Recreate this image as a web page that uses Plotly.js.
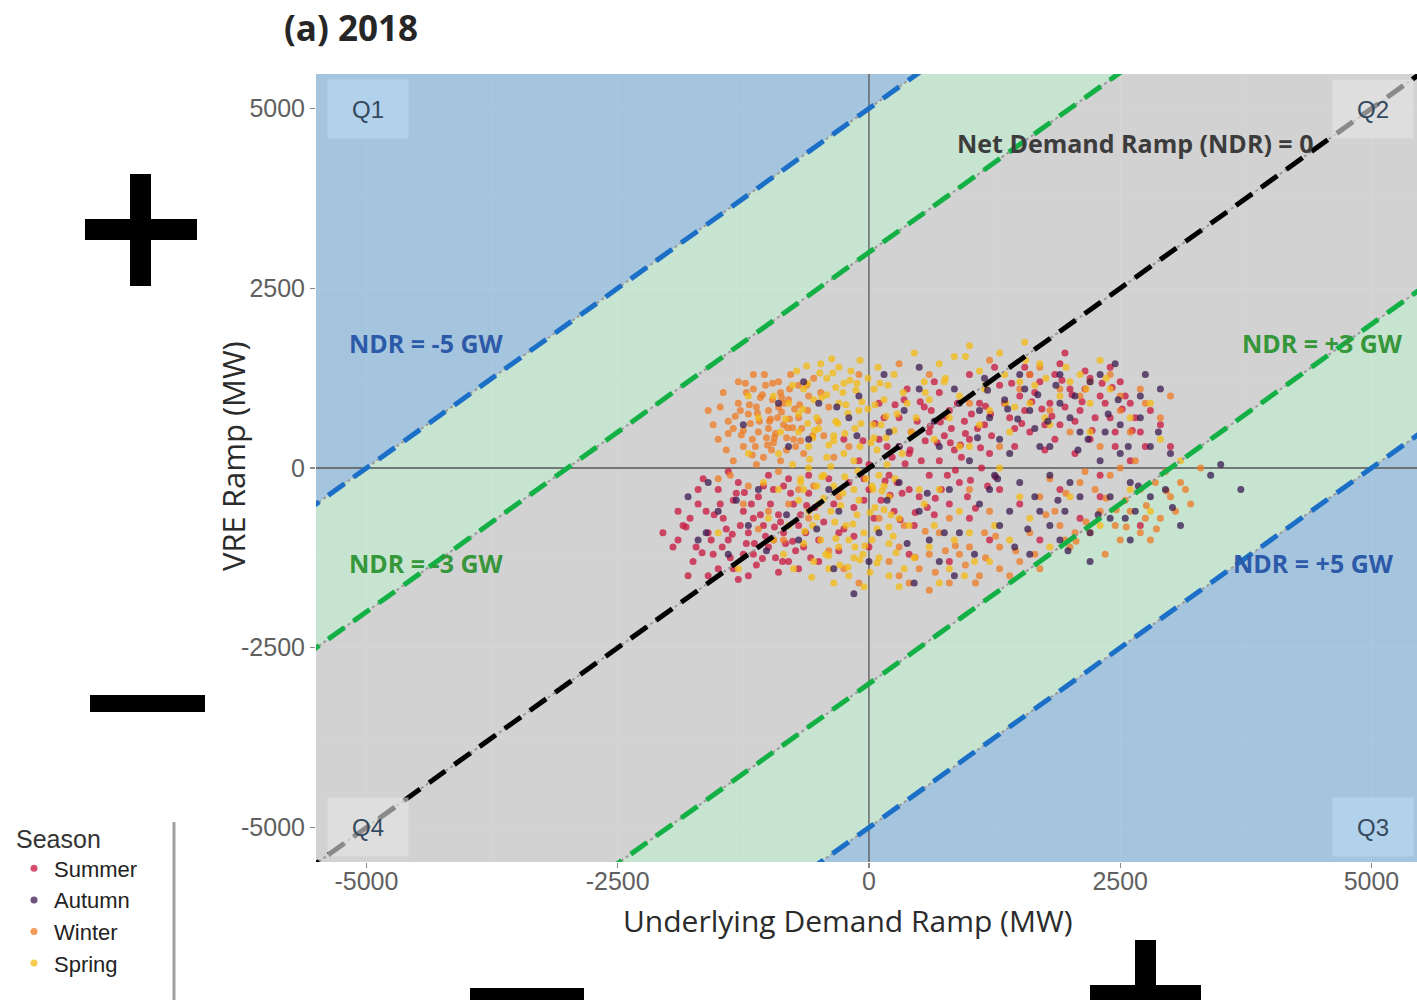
<!DOCTYPE html>
<html><head><meta charset="utf-8">
<script src="https://cdn.plot.ly/plotly-3.0.1.min.js"></script>
<style>html,body{margin:0;padding:0;background:#fff;}#chart{width:1417px;height:1000px;}</style>
</head><body><div id="chart"></div>
<script>
// ---------------- DATA (MW) ----------------
const seasonNames = ['Summer', 'Autumn', 'Winter', 'Spring'];
const ndrLevels = [-5000, -3000, 0, 3000, 5000];
const ndrLabels = ['NDR = -5 GW', 'NDR = -3 GW', 'Net Demand Ramp (NDR) = 0', 'NDR = +3 GW', 'NDR = +5 GW'];
const quadrantNames = ['Q1', 'Q2', 'Q3', 'Q4'];
const xTicks = [-5000, -2500, 0, 2500, 5000];
const yTicks = [-5000, -2500, 0, 2500, 5000];
const xTitle = 'Underlying Demand Ramp (MW)';
const yTitle = 'VRE Ramp (MW)';
const chartTitle = '(a) 2018';

const summerX = [-1950,-1850,-1750,-1700,-1600,-1550,-1500,-1450,-1400,-1350,
  -1300,-1250,-1200,-1150,-1100,-1050,-1000,-950,-900,-850,
  -800,-750,-700,-650,-600,-1900,-1650,-1400,-1200,-900,
  -1800,-1350,-1150,-950,-1000,-850,-1600,-2050,-1250,-700,
  -100,0,100,200,300,400,500,600,700,800,
  900,1000,1100,1200,1300,250,450,650,350,550,
  750,950,150,50,-150,300,600,800,1000,700,
  -200,400,850,1150,
  1400,1500,1600,1700,1800,1900,2000,2100,2200,2300,
  2400,2500,2600,2700,1550,1850,2150,1450,1750,2050,
  2450,2800,1300,1000,1950,
  1500,1900,2300,2700,1200,800,400,0,-300,-500,2100,1700,
  -350,-250,-50,-400,-150,
  -1900,-1780,-1720,-1620,-1570,-1480,-1420,-1380,-1320,-1280,
  -1220,-1170,-1120,-1080,-1030,-980,-930,-880,-830,-780,
  -730,-680,-630,-580,-540,-1700,-1500,-1300,-1050,-800,
  -600,-450,-300,-500,
  0,120,230,330,420,520,620,720,820,920,
  1020,1120,1220,180,480,680,880,1080,280,580,
  780,980,1180,-50,100,380,650,-250,
  1350,1450,1550,1650,1750,1850,1950,2050,2150,2250,
  2350,2450,2550,2650,2750,1600,1900,2200,2400,1250,
  2900,3000,2600,2300,
  60,160,260,360,460,560,660,760,860,960,
  1060,1160,1260,210,410,610,810,1010,1210,310,
  510,710,910,1110,-60,1420,1620,1820,2020,2220,
  2420,2620,1520,1720,1920,2120,2320,2520,-1820,-1660,
  -1540,-1360,-1240,-1060,-940,-760,-620,-1460,-1140,-860];
const summerY = [-1100,-800,-1300,-500,-900,-1200,-300,-700,-1000,-1400,
  -200,-600,-900,-1200,-400,-800,-1100,-300,-650,-900,
  -1300,-500,-800,-1100,-350,-600,-150,-50,-1500,-1450,
  -1500,-450,-700,-1000,-100,-250,-1500,-900,-1200,-1400,
  100,-300,400,-100,700,200,-400,500,100,800,
  -200,400,900,200,-300,-600,-800,-650,950,850,
  450,650,700,-700,-550,300,-100,-500,-700,1050,
  -200,-300,250,600,
  700,1000,500,1200,900,600,1100,800,400,1000,
  700,1200,900,500,1400,1300,1350,300,250,200,
  300,800,1150,1300,1600,
  -500,-300,-400,-800,-1000,-1300,-1200,-1100,-900,-1300,-700,-1000,
  -500,-850,-450,-150,-950,
  -1000,-700,-1100,-600,-1000,-500,-850,-1250,-350,-800,
  -1050,-500,-1350,-650,-950,-500,-1250,-750,-1050,-350,
  -1150,-650,-900,-1250,-550,-300,-1400,-1550,-250,-150,
  -100,-750,-1150,-1000,
  50,-450,150,-350,500,100,800,-300,550,150,
  750,0,450,300,650,350,900,550,-200,-550,
  -100,-400,-250,-150,900,1100,1200,400,
  900,550,800,1050,600,400,850,650,1100,700,
  900,500,1000,700,300,1300,1450,1250,1400,1400,
  600,300,100,-100,
  620,-180,880,60,-620,380,-420,720,-30,480,
  -560,860,-120,-380,250,580,350,-170,750,-720,
  920,640,320,280,380,1180,920,720,1020,520,
  1120,520,620,820,1220,920,1180,820,-820,-1180,
  -650,-920,-340,-1260,-820,-1020,-520,-1100,-1050,-1300];

const autumnX = [-1800,-1400,-1100,-800,-500,-300,-100,0,200,300,
  500,600,700,800,900,1000,1100,1200,1300,1400,
  1500,1600,1700,1800,1900,2000,2100,2200,2300,2400,
  2500,2600,2700,2800,1650,1350,1050,850,450,-150,
  2450,2750,3000,2950,1900,1150,650,1800,2200,1250,
  750,350,-650,-1250,-1600,1550,2050,2350,1450,2650,
  3700,3500,3400,
  1100,1300,1500,1700,1900,2100,2300,2500,2700,2900,
  1200,1400,1600,1800,2000,2200,2400,2600,2800,3100,
  900,700,500,300,100,-200,-400,-700,-900,-1200,
  -1500,-1700,150,500,850,-350,-600,1950,2550,1650,
  1080,1280,1480,1680,1880,2080,2280,2480,2680,1180,
  1380,1580,1780,1980,2180,2380,2580,580,380,180,
  -120,-320,-520,-820,-1020,-1320,-1620,2880,3020,1860];
const autumnY = [-400,-1200,-300,300,900,-600,1000,-1300,500,-200,
  1100,-1000,300,-300,900,100,-500,700,-800,200,
  -200,800,-600,300,-1000,700,-400,1200,100,-700,
  600,-200,1000,300,550,950,-1200,-1500,-1600,-1750,
  1450,1300,200,-300,1300,1250,650,-100,-900,-100,
  -900,800,1200,600,-200,1100,1000,500,-1100,-600,
  -300,50,-100,
  800,400,1300,300,900,500,1300,200,700,1100,
  -300,-600,-1200,-800,-200,-1300,-400,-1000,-400,-800,
  -900,-1300,-600,300,-900,700,-300,-1000,900,-800,
  -600,-1000,1300,1400,1100,-1400,400,-600,-700,-400,
  420,-150,680,1020,-450,250,-650,950,-250,1080,
  820,-850,650,-1150,400,750,300,-350,-1050,-450,
  450,850,-850,-650,-1150,-450,-900,500,-550,1150];

const winterX = [-1300,-1150,-1000,-900,-800,-700,-1100,-950,-850,-1250,
  -1400,-1050,-750,-600,-500,-650,-880,-1200,-1000,-780,
  -1350,-1500,-1600,-1450,-550,-400,-900,-1200,-700,-1500,
  -1000,-600,-850,-400,-300,-200,-1150,-960,-820,-1080,
  100,300,500,700,900,1100,400,800,1300,200,-100,600,1000,1200,1500,
  1700,1900,2100,2300,2500,2700,2900,3100,2400,2000,2600,2800,3000,3300,1800,2200,2650,2950,3200,1600,
  1500,1800,2100,2400,2700,1700,2000,2300,2600,2900,1300,1000,600,300,-100,3000,2500,1200,
  -1180,-1020,-870,-930,-1120,-760,-690,-1250,-980,-820,
  -1350,-1280,-1220,-1160,-1090,-1030,-970,-910,-850,-790,
  -730,-670,-610,-560,-1420,-1480,-1550,-1300,-1040,-700,
  -480,-450,-1120,-880,-1380,-1250,-1100,-800,-550,-350,
  1850,2050,2250,2450,2550,2750,2850,3050,2150,1950,
  2350,1650,2700,3150,2500,1400,800,1000,600,300,
  1150,1300,1700,350,-250,1600,1900,2200,2500,2750,
  -1330,-1270,-1190,-1130,-1060,-990,-940,-870,-810,-740,
  -680,-620,-1230,-1110,-1010,-900,-790,-1400,-1160,-960,
  460,660,860,1060,1260,1460,560,960,1160,760,
  1760,1960,2160,2360,2560,2760,2960,2060,2460,2860];
const winterY = [900,1100,800,1200,950,700,500,350,600,300,
  650,150,400,1000,650,200,1050,750,550,1300,
  100,400,800,1050,1250,850,-50,-250,-300,-150,
  -600,-700,-1000,-1150,-400,300,1300,950,250,980,
  -700,-1100,-1400,-900,-1200,-1500,-1600,-700,-1100,-1300,-1600,-1700,-300,-600,-1300,
  -400,-800,-200,-600,-1000,-300,-700,-200,-100,-1100,-600,-1000,-400,0,-150,-900,100,-50,-500,-900,
  1100,800,1000,1300,1100,1400,500,300,500,700,300,900,1300,1450,1300,1000,800,1500,
  620,420,780,480,850,560,880,520,680,420,
  550,800,1050,400,650,1150,250,700,900,1100,
  300,550,800,450,250,850,600,1200,1300,1150,
  1050,450,50,100,-100,-500,-850,-500,-250,150,
  -600,-900,-300,-800,-450,-700,-200,-600,-50,-1000,
  -1200,-1200,-900,-300,0,-1500,-1600,-1100,-1200,-1500,
  -900,-1400,-1400,-800,-1400,1300,1100,1200,1000,900,
  720,460,880,300,1020,650,420,980,560,820,
  380,1150,1180,760,320,850,680,480,180,1180,
  -1240,-1450,-1080,-1600,-950,-1150,-880,-1350,-1250,-1150,
  -650,-350,-750,-420,-820,-520,-320,-1020,-580,-850];

const springX = [-650,-420,-300,-180,-520,-350,-100,50,120,-250,
  -600,-450,-150,80,-380,-700,-50,200,-300,-550,
  100,-200,300,-800,-720,-90,250,380,-480,-260,
  -140,20,-420,-680,-30,180,-260,-560,-120,240,
  -400,10,-650,-330,-10,150,-550,-230,60,330,
  -880,-760,-900,-950,-1100,-1000,-850,
  550,700,900,1100,1300,1500,1700,1900,800,1200,1600,2100,2400,2600,2800,650,1000,1400,1800,2200,450,1000,1550,2300,2900,3100,
  400,600,800,1000,1200,1400,700,300,500,900,1600,1800,2000,2300,2600,2800,
  -1300,-1500,-1200,-1200,
  -600,-350,-150,100,-500,-700,-300,200,-480,-150,350,550,420,280,
  -610,-470,-330,-210,-80,60,190,-560,-400,-240,
  -90,40,170,-650,-500,-340,-200,-60,80,220,
  -430,-290,-140,30,-600,-520,-380,-240,-100,40,
  150,260,-760,-830,-700,-620,-360,-120,90,340,
  470,600,750,850,1150,1350,1450,1650,1750,2000,
  2200,1100,900,1300,1500,700,450,650,850,1050,
  1250,950,-900,-1050,-800,-950,-750,-350,-50,200,
  -660,-540,-420,-310,-190,-70,50,170,-590,-470,
  -350,-230,-110,10,130,250,-640,-520,-400,-280,
  -160,-40,80,200,-570,-450,-330,-210,-90,30,
  150,270,-610,-490,-370,-250,-130,-10,110,-680,
  560,760,960,1160,1360,1560,1760,1960,2160,2360];
const springY = [1100,1250,900,1350,700,450,800,1100,600,200,
  300,-100,-300,250,-600,-450,-900,-400,-1100,-1300,
  -1250,-1500,-700,900,1350,1500,1300,900,1450,1050,
  550,350,150,-150,-150,50,-350,-800,-650,-950,
  -1400,-1450,-1050,650,1250,950,950,-800,-550,200,
  500,50,-300,1000,700,-700,-1200,
  1200,1450,1000,1350,1600,1200,1450,1000,700,800,900,1300,1100,700,900,400,300,500,600,500,1600,1700,1750,1500,400,100,
  -800,-1100,-1400,-900,-1300,-1000,-1600,-1650,-300,-600,-700,-1100,-400,-800,-300,-600,
  -1400,-900,200,1000,
  0,-250,100,-100,550,750,1400,-1050,-1000,-1250,-1400,-500,500,750,
  1180,980,1120,760,620,880,1150,420,320,480,
  300,600,420,-300,-500,-750,-1000,-1200,-850,-650,
  -1200,-1350,-1100,-1000,-600,-250,20,-120,-450,-300,
  -250,-150,1150,680,500,1420,1320,1180,1400,1050,
  700,950,1200,1550,1100,1300,850,1150,700,1200,
  900,600,300,0,-400,-300,-1250,-800,-1000,-1300,
  -800,-1500,200,-200,-800,-1000,-1400,-1600,-1650,-1500,
  820,520,1020,620,1220,920,420,720,120,-120,
  380,880,-40,-620,-320,520,-880,-680,-1220,-520,
  -780,-1080,-1320,-820,-1520,-420,-980,-1380,-1280,-250,
  -580,-1180,620,1320,1520,1180,1080,820,1180,-200,
  1050,1250,1550,1150,900,1500,1250,1400,1100,1250];

// ---------------- STYLE ----------------
const W = 1417, H = 1000;
const M = {l: 316, r: 0, t: 74, b: 138};
const xRange = [-5502, 5453];
const yRange = [-5480, 5480];
const seasonColors = {Summer: '#C8153D', Autumn: '#3A1A50', Winter: '#EF7A22', Spring: '#F4BA10'};
const seasonRank = {Summer: 1, Autumn: 2, Winter: 3, Spring: 4};
const drawOrder = ['Summer', 'Winter', 'Spring', 'Autumn'];
const seasonData = {
  Summer: [summerX, summerY], Autumn: [autumnX, autumnY],
  Winter: [winterX, winterY], Spring: [springX, springY]
};
const blueFill = 'rgba(160,195,223,0.9)';
const greenFill = 'rgba(197,229,208,0.9)';
const greyFill = 'rgba(209,209,209,0.9)';
const lineColors = ['#1B6FC6', '#12B045', '#000000', '#12B045', '#1B6FC6'];
const labelColors = ['#2C5AA8', '#35963A', '#3C3C3C', '#35963A', '#2C5AA8'];
const labelPos = [[-4400, 1740], [-4400, -1320], [2650, 4520], [4510, 1740], [4420, -1320]];
const quadPos = [[-4980, 5000], [5020, 5000], [5020, -5000], [-4980, -5000]];
const quadBg = ['rgba(190,220,245,0.55)', 'rgba(230,230,230,0.6)', 'rgba(190,220,245,0.55)', 'rgba(230,230,230,0.6)'];

const BIG = 40000;
const traces = [];
const bands = [[-BIG, ndrLevels[0], blueFill], [ndrLevels[0], ndrLevels[1], greenFill],
  [ndrLevels[1], ndrLevels[3], greyFill],
  [ndrLevels[3], ndrLevels[4], greenFill], [ndrLevels[4], BIG, blueFill]];
bands.forEach(([a, b, c]) => {
  const xs = [-BIG, BIG, BIG, -BIG];
  const ys = [-BIG - a, BIG - a, BIG - b, -BIG - b];
  traces.push({type: 'scatter', x: xs, y: ys, mode: 'none', fill: 'toself', fillcolor: c,
    hoverinfo: 'skip', showlegend: false});
});
traces.push({type: 'scatter', x: [0, 0], y: [-BIG, BIG], mode: 'lines',
  line: {color: '#555', width: 1.3}, hoverinfo: 'skip', showlegend: false});
traces.push({type: 'scatter', x: [-BIG, BIG], y: [0, 0], mode: 'lines',
  line: {color: '#555', width: 1.3}, hoverinfo: 'skip', showlegend: false});

drawOrder.forEach(s => {
  traces.push({type: 'scatter', mode: 'markers', name: s, x: seasonData[s][0], y: seasonData[s][1],
    legendrank: seasonRank[s],
    marker: {color: seasonColors[s], size: 7, opacity: 0.75, line: {width: 0}}});
});

ndrLevels.forEach((n, i) => {
  const xs = [-BIG, BIG];
  const ys = xs.map(v => v - n);
  traces.push({type: 'scatter', x: xs, y: ys, mode: 'lines',
    line: {color: '#9a9a9a', width: 2, dash: 'dot'}, hoverinfo: 'skip', showlegend: false});
  traces.push({type: 'scatter', x: xs, y: ys, mode: 'lines',
    line: {color: lineColors[i], width: 5, dash: '20px,11px'}, hoverinfo: 'skip', showlegend: false});
});

const px2x = p => (p - M.l) / (W - M.l - M.r);
const py2y = p => (H - M.b - p) / (H - M.t - M.b);
function rect(x0, y0, x1, y1) {
  return {type: 'rect', xref: 'paper', yref: 'paper', x0: px2x(x0), x1: px2x(x1),
    y0: py2y(y0), y1: py2y(y1), fillcolor: '#000', line: {width: 0}};
}

const annotations = [];
annotations.push({xref: 'paper', yref: 'paper', x: px2x(282), y: py2y(27), xanchor: 'left', yanchor: 'middle',
  text: '<b>' + chartTitle + '</b>', showarrow: false, font: {family: 'Open Sans', size: 35, color: '#262626'}});
annotations.push({xref: 'paper', yref: 'paper', x: px2x(847), y: py2y(920), xanchor: 'center', yanchor: 'middle',
  text: xTitle, showarrow: false, font: {family: 'Open Sans', size: 30, color: '#2b2b2b'}});
annotations.push({xref: 'paper', yref: 'paper', x: px2x(233), y: py2y(456), xanchor: 'center', yanchor: 'middle',
  textangle: -90, text: yTitle, showarrow: false, font: {family: 'Open Sans', size: 31, color: '#2b2b2b'}});
ndrLabels.forEach((t, i) => {
  annotations.push({x: labelPos[i][0], y: labelPos[i][1], text: '<b>' + t + '</b>', showarrow: false,
    font: {family: 'Open Sans', size: 25, color: labelColors[i]}});
});
quadrantNames.forEach((q, i) => {
  annotations.push({x: quadPos[i][0], y: quadPos[i][1], text: q, showarrow: false,
    width: 78, height: 56, bgcolor: quadBg[i],
    font: {family: 'Liberation Sans', size: 24, color: '#34495e'}});
});

const shapes = [
  rect(85, 219, 197, 240), rect(130, 174, 151, 286),
  rect(90, 695, 205, 712),
  rect(470, 988, 584, 1010),
  rect(1090, 985, 1201, 1010), rect(1135, 940, 1156, 1010),
  {type: 'line', xref: 'paper', yref: 'paper', x0: px2x(174), x1: px2x(174), y0: py2y(822), y1: py2y(1002),
    line: {color: '#a0a0a0', width: 3}}
];

const axisCommon = {
  ticks: 'outside', ticklen: 5, tickcolor: '#888', tickwidth: 1.2,
  tickfont: {family: 'Liberation Sans', size: 25, color: '#606060'},
  showgrid: true, gridcolor: '#ffffff', gridwidth: 1.2,
  zeroline: false, showline: false, automargin: false, fixedrange: true,
  minor: {dtick: 1250, showgrid: true, gridcolor: '#ffffff', gridwidth: 0.6}
};

const layout = {
  width: W, height: H, margin: M,
  paper_bgcolor: '#ffffff', plot_bgcolor: '#D1D1D1',
  xaxis: Object.assign({}, axisCommon, {range: xRange, tickmode: 'array', tickvals: xTicks,
    ticktext: xTicks.map(String), ticklabelstandoff: -8}),
  yaxis: Object.assign({}, axisCommon, {range: yRange, tickmode: 'array', tickvals: yTicks,
    ticktext: yTicks.map(String)}),
  showlegend: true,
  legend: {x: px2x(14), xanchor: 'left', y: py2y(815), yanchor: 'top',
    title: {text: 'Season', font: {family: 'Liberation Sans', size: 25, color: '#333'}},
    font: {family: 'Liberation Sans', size: 22, color: '#222'},
    bgcolor: '#ffffff', borderwidth: 0, itemsizing: 'trace', tracegroupgap: 0},
  annotations: annotations,
  shapes: shapes,
  hovermode: false
};

Plotly.newPlot('chart', traces, layout, {displayModeBar: false, staticPlot: true});
</script>
</body></html>
